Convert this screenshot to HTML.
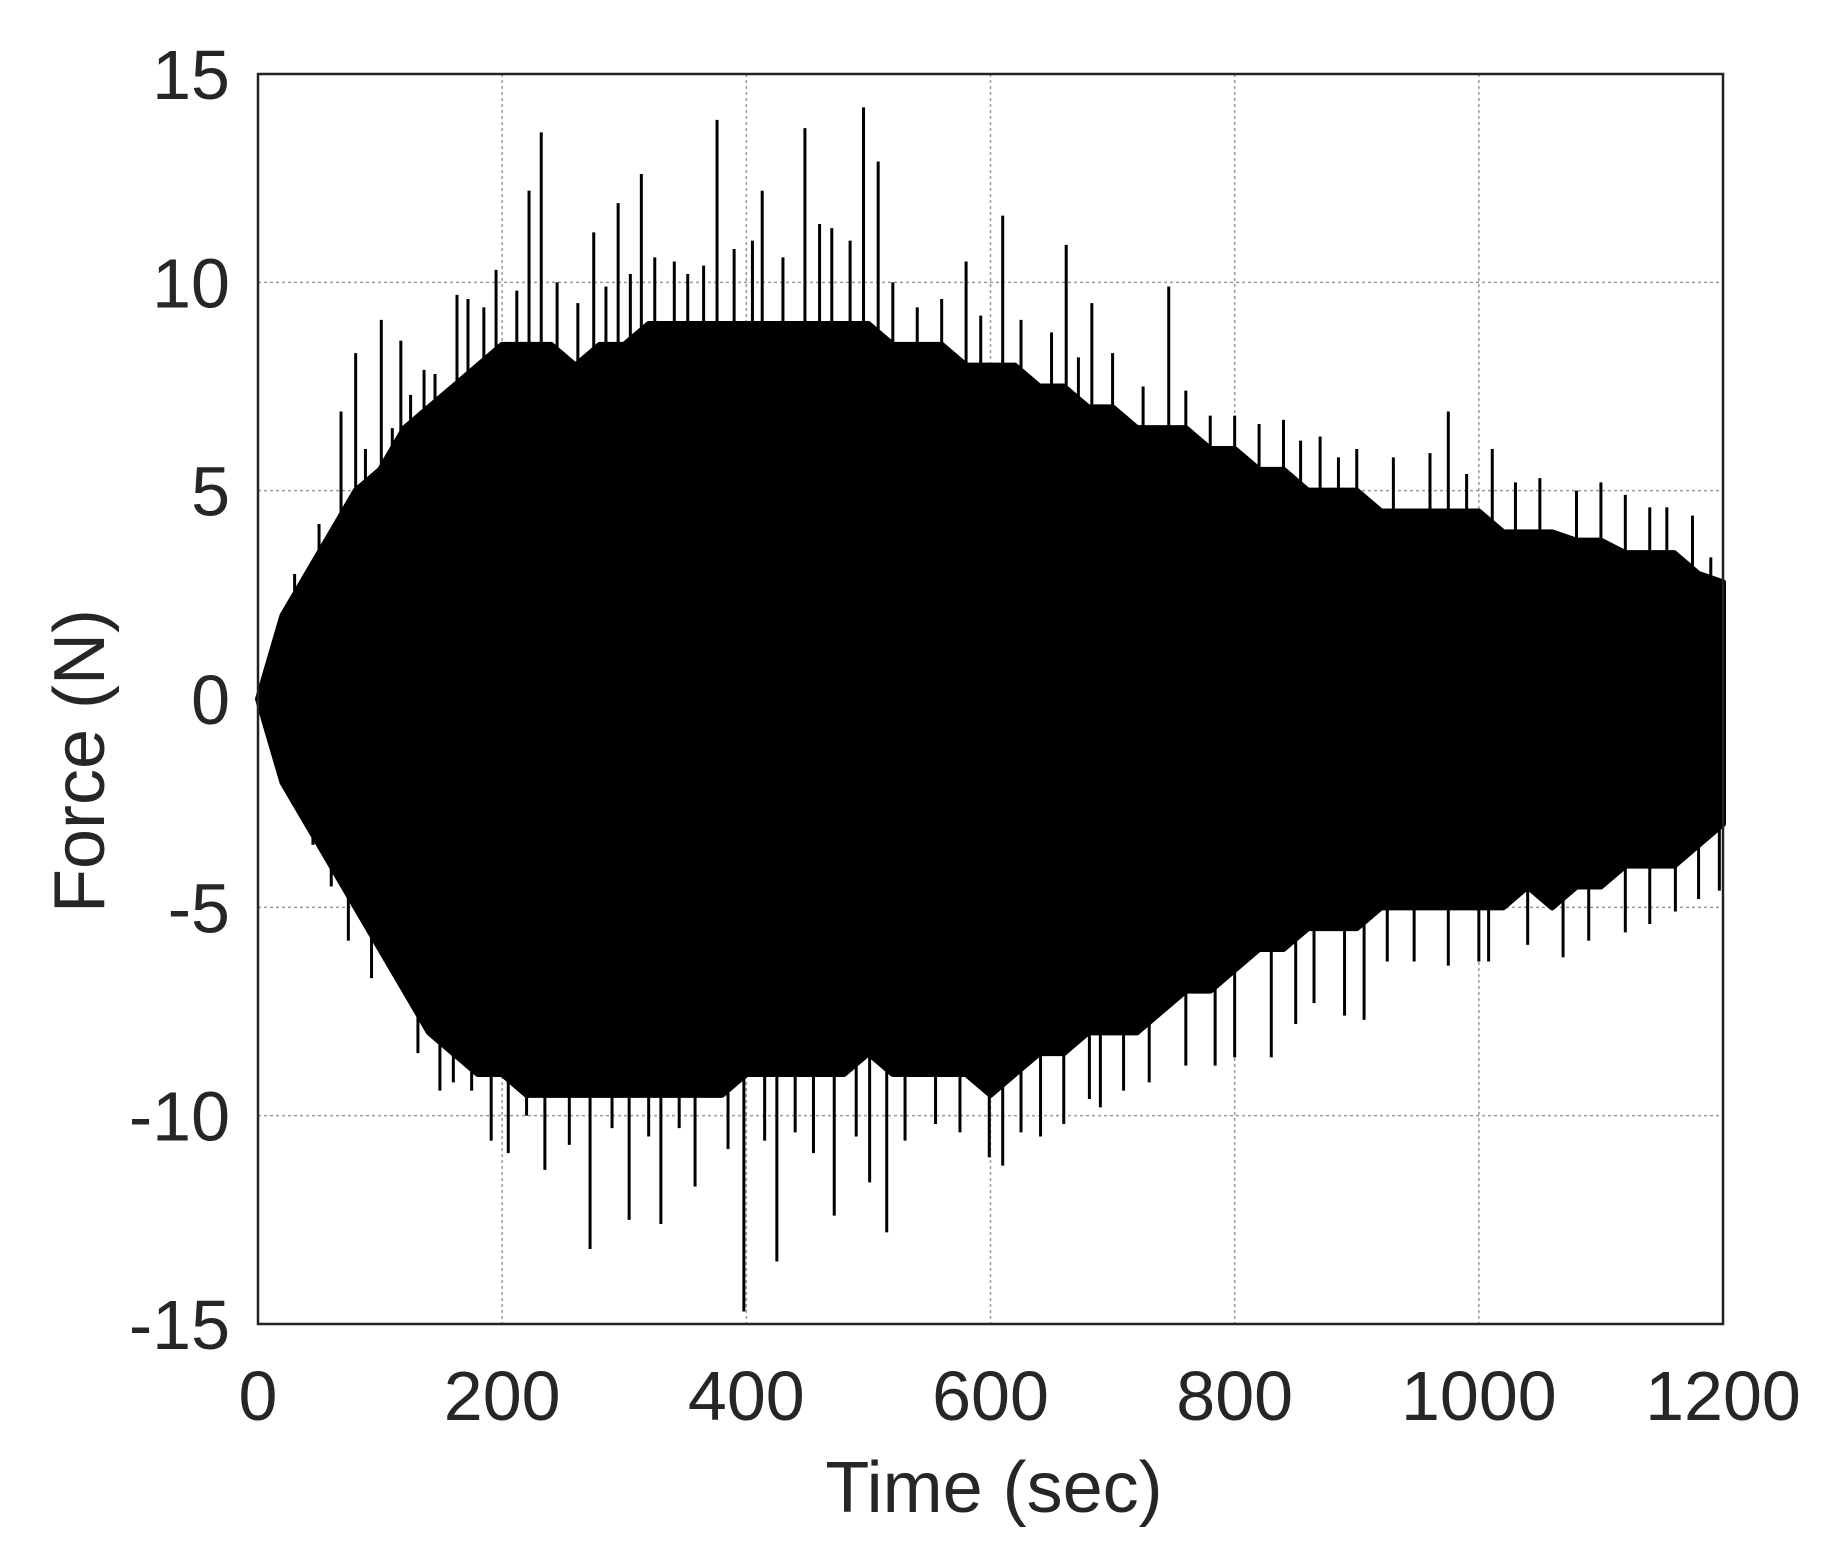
<!DOCTYPE html>
<html><head><meta charset="utf-8"><style>
html,body{margin:0;padding:0;background:#fff;}
svg{display:block;font-family:"Liberation Sans",Arial,sans-serif;}
</style></head><body>
<svg id="chart" width="1823" height="1568" viewBox="0 0 1823 1568" xmlns="http://www.w3.org/2000/svg">
<g id="grid"></g>
<g id="data"></g>
<rect x="258" y="74" width="1465" height="1250" fill="none" stroke="#222" stroke-width="2.5"/>
<g id="ticks" fill="#262626" font-size="70"></g>
<text x="994" y="1512" text-anchor="middle" font-size="72" fill="#262626">Time (sec)</text>
<text x="0" y="0" transform="translate(104,761) rotate(-90)" text-anchor="middle" font-size="72" fill="#262626">Force (N)</text>
</svg>
<script>
const xTicks=[0,200,400,600,800,1000,1200];
const yTicks=[-15,-10,-5,0,5,10,15];
const envTimes=[0,20,40,60,80,100,120,140,160,180,200,220,240,260,280,300,320,340,360,380,400,420,440,460,480,500,520,540,560,580,600,620,640,660,680,700,720,740,760,780,800,820,840,860,880,900,920,940,960,980,1000,1020,1040,1060,1080,1100,1120,1140,1160,1180,1200];
const upperEnv=[0,2,3,4,5,5.5,6.5,7,7.5,8,8.5,8.5,8.5,8,8.5,8.5,9,9,9,9,9,9,9,9,9,9,8.5,8.5,8.5,8,8,8,7.5,7.5,7,7,6.5,6.5,6.5,6,6,5.5,5.5,5,5,5,4.5,4.5,4.5,4.5,4.5,4,4,4,3.8,3.8,3.5,3.5,3.5,3,2.8];
const lowerEnv=[0,-2,-3,-4,-5,-6,-7,-8,-8.5,-9,-9,-9.5,-9.5,-9.5,-9.5,-9.5,-9.5,-9.5,-9.5,-9.5,-9,-9,-9,-9,-9,-8.5,-9,-9,-9,-9,-9.5,-9,-8.5,-8.5,-8,-8,-8,-7.5,-7,-7,-6.5,-6,-6,-5.5,-5.5,-5.5,-5,-5,-5,-5,-5,-5,-4.5,-5,-4.5,-4.5,-4,-4,-4,-3.5,-3];
const spikeTimes=[232,376,448,496,508,314,413,295,222,195,163,101,80,68,610,662,746,683,580,975,1011,1080,1154,854,780,470,341,275,136,117,885,1190,
398,425,272,304,330,515,472,501,235,205,191,131,149,599,610,641,681,709,784,865,906,947,1008,1069,1161,1197,93,74,255,358,
30,50,88,110,125,145,172,185,212,245,262,285,305,325,352,365,390,405,430,460,485,520,540,560,592,625,650,672,700,725,760,800,820,840,870,900,930,960,990,1030,1050,1100,1120,1140,1175,
45,60,110,160,175,220,290,320,345,385,415,440,455,490,530,555,575,625,660,690,730,760,800,830,850,890,925,975,1000,1040,1090,1120,1140,1180];
const spikeValues=[13.6,13.9,13.7,14.2,12.9,12.6,12.2,11.9,12.2,10.3,9.7,9.1,8.3,6.9,11.6,10.9,9.9,9.5,10.5,6.9,6,5,4.6,6.2,6.8,11.3,10.5,11.2,7.9,8.6,5.8,3.4,
-14.7,-13.5,-13.2,-12.5,-12.6,-12.8,-12.4,-11.6,-11.3,-10.9,-10.6,-8.5,-9.4,-11,-11.2,-10.5,-9.6,-9.4,-8.8,-7.3,-7.7,-6.3,-6.3,-6.2,-5.1,-4.6,-6.7,-5.8,-10.7,-11.7,
3,4.2,6,6.5,7.3,7.8,9.6,9.4,9.8,10,9.5,9.9,10.2,10.6,10.2,10.4,10.8,11,10.6,11.4,11,10,9.4,9.6,9.2,9.1,8.8,8.2,8.3,7.5,7.4,6.8,6.6,6.7,6.3,6,5.8,5.9,5.4,5.2,5.3,5.2,4.9,4.6,4.4,
-3.5,-4.5,-6,-9.2,-9.4,-10,-10.3,-10.5,-10.3,-10.8,-10.6,-10.4,-10.9,-10.5,-10.6,-10.2,-10.4,-10.4,-10.2,-9.8,-9.2,-8.8,-8.6,-8.6,-7.8,-7.6,-6.3,-6.4,-6.3,-5.9,-5.8,-5.6,-5.4,-4.8];

const NS='http://www.w3.org/2000/svg';
const X0=258,X1=1723,Y0=1324,Y1=74;
function sx(t){return X0+(t-0)/(1200-0)*(X1-X0);}
function sy(v){return Y0-(v+15)/30*(Y0-Y1);}
function mk(tag,attrs,parent){const e=document.createElementNS(NS,tag);for(const k in attrs)e.setAttribute(k,attrs[k]);parent.appendChild(e);return e;}

const grid=document.getElementById('grid');
xTicks.forEach(t=>{if(t>0&&t<1200){const l=mk('line',{x1:sx(t),x2:sx(t),y1:Y1,y2:Y0,stroke:'#999','stroke-width':1.5,'stroke-dasharray':'3,3'},grid);

}});
yTicks.forEach(v=>{if(v>-15&&v<15){const l=mk('line',{x1:X0,x2:X1,y1:sy(v),y2:sy(v),stroke:'#999','stroke-width':1.5,'stroke-dasharray':'3,3'},grid);

}});

const data=document.getElementById('data');
let pts=envTimes.map((t,i)=>sx(t)+','+sy(upperEnv[i]));
for(let i=envTimes.length-1;i>=0;i--)pts.push(sx(envTimes[i])+','+sy(lowerEnv[i]));
const body=mk('polygon',{points:pts.join(' '),fill:'#000',stroke:'#000','stroke-width':6,'stroke-linejoin':'round'},data);


spikeTimes.forEach((t,i)=>{const s=mk('line',{x1:sx(t),x2:sx(t),y1:sy(0),y2:sy(spikeValues[i]),stroke:'#000','stroke-width':3},data);

});

const ticks=document.getElementById('ticks');
xTicks.forEach(t=>{const e=mk('text',{x:sx(t),y:1420,'text-anchor':'middle'},ticks);e.textContent=t;

});
yTicks.forEach(v=>{const e=mk('text',{x:230,y:sy(v)+25,'text-anchor':'end'},ticks);e.textContent=v;

});
</script>
</body></html>
